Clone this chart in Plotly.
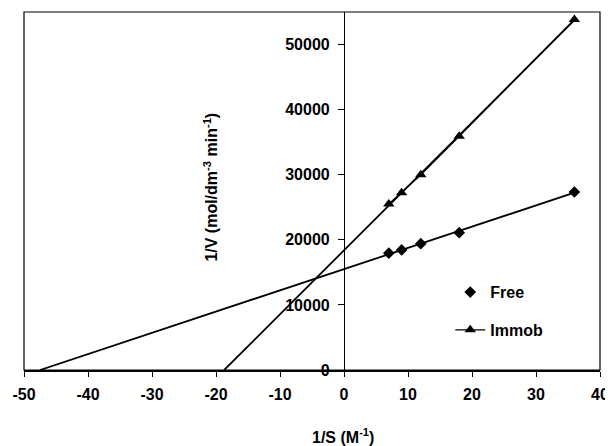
import numpy as np
import plotly.graph_objects as go

inv_s = [7, 9, 12, 18, 36]
free_inv_v = [17950, 18450, 19400, 21100, 27350]
immob_inv_v = [25500, 27250, 30000, 35900, 53850]
x_ticks = [-50, -40, -30, -20, -10, 0, 10, 20, 30, 40]
y_ticks = [0, 10000, 20000, 30000, 40000, 50000]

FONT = dict(family="Liberation Sans, Arial, sans-serif", size=16, color="black", weight="bold")


def fit_line(x, y):
    slope, intercept = np.polyfit(np.array(x, float), np.array(y, float), 1)
    x0 = -intercept / slope
    x1 = max(x)
    return [x0, x1], [slope * x0 + intercept, slope * x1 + intercept]


fig = go.Figure()
for ys in (free_inv_v, immob_inv_v):
    lx, ly = fit_line(inv_s, ys)
    fig.add_trace(go.Scatter(x=lx, y=ly, mode="lines", showlegend=False,
                             line=dict(color="black", width=1.8), hoverinfo="skip"))

fig.add_trace(go.Scatter(x=inv_s, y=free_inv_v, mode="markers", name="Free", legendgroup="a",
                         marker=dict(symbol="diamond", size=9, color="black")))
fig.add_trace(go.Scatter(x=inv_s, y=immob_inv_v, mode="lines+markers", name="Immob", legendgroup="b",
                         line=dict(color="black", width=1.4),
                         marker=dict(symbol="triangle-up", size=10, color="black")))

# page body has an 8px margin: size the figure so the plot area lands where the reference has it
fig.update_layout(
    width=605, height=438,
    margin=dict(l=15, r=9, t=4, b=76),
    paper_bgcolor="white", plot_bgcolor="white",
    font=FONT,
    xaxis=dict(range=[-50, 40], tickvals=x_ticks, ticktext=[str(v) for v in x_ticks],
               showgrid=False, zeroline=False,
               showline=True, linecolor="black", linewidth=1.5,
               ticks="outside", ticklen=5, tickcolor="black", tickfont=FONT,
               ticklabelstandoff=4),
    yaxis=dict(range=[0, 55000], tickvals=y_ticks, ticktext=[str(v) for v in y_ticks],
               showgrid=False, zeroline=False,
               anchor="free", position=5 / 9, showline=True, linecolor="black", linewidth=1.2,
               ticks="outside", ticklen=6, tickcolor="black", tickfont=FONT,
               ticklabelstandoff=5),
    legend=dict(x=0.74, y=0.265, xanchor="left", yanchor="top", bgcolor="rgba(0,0,0,0)",
                font=FONT, traceorder="grouped", tracegroupgap=14),
    shapes=[dict(type="rect", xref="paper", yref="paper", x0=0, x1=1, y0=0, y1=1,
                 line=dict(color="black", width=1.2), layer="above")],
    annotations=[
        dict(text="1/S (M<sup>-1</sup>)", xref="paper", yref="paper", x=0.554, y=-0.185,
             showarrow=False, font=FONT, xanchor="center", yanchor="middle"),
        dict(text="1/V (mol/dm<sup>-3</sup> min<sup>-1</sup>)", xref="paper", yref="paper",
             x=0.325, y=0.51, textangle=-90, showarrow=False, font=FONT,
             xanchor="center", yanchor="middle"),
    ],
)

fig.write_html("out.html")
